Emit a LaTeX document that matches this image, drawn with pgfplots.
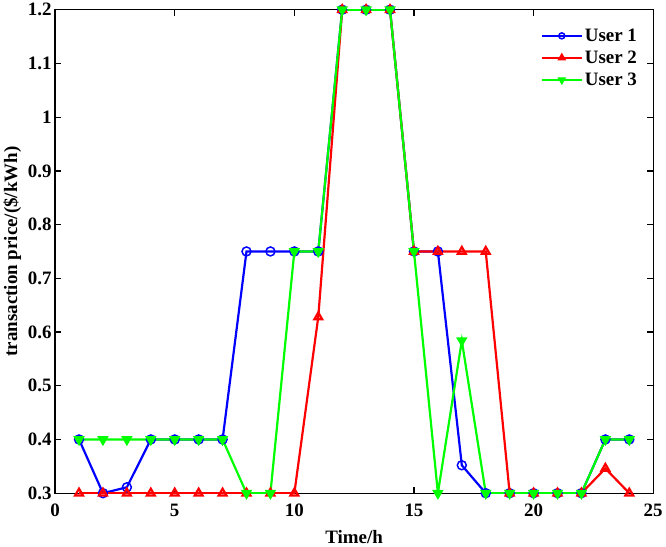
\documentclass[border=0pt]{standalone}
\usepackage{fontspec}
\setmainfont{Liberation Serif}
\usepackage{pgfplots}
\pgfplotsset{compat=1.18}
\begin{document}
\begin{tikzpicture}
\begin{axis}[
  scale only axis,
  width=600pt, height=485pt,
  xmin=0, xmax=25, ymin=0.3, ymax=1.2,
  xtick={0,5,10,15,20,25},
  ytick={0.3,0.4,0.5,0.6,0.7,0.8,0.9,1,1.1,1.2},
  tick align=inside,
  major tick length=6pt,
  axis line style={line width=1.3pt},
  every tick/.style={black, line width=1.3pt},
  /pgf/number format/assume math mode=true,
  ticklabel style={font=\fontsize{19}{22}\selectfont\bfseries},
  xticklabel style={yshift=-7pt},
  xlabel={Time/h},
  ylabel={transaction price/(\$/kWh)},
  label style={font=\fontsize{19}{22}\selectfont\bfseries},
  xlabel style={yshift=-7pt},
  ylabel style={yshift=0pt},
  legend style={at={(0.81,1)}, anchor=north west, font=\fontsize{19}{22}\selectfont\bfseries, draw=none, fill=white, inner sep=1pt, row sep=4pt, cells={anchor=west}, nodes={inner xsep=2pt}, yshift=-16pt},
  legend image code/.code={\draw[mark repeat=2,mark phase=2, mark size=3pt] plot coordinates {(0pt,0pt)(20pt,0pt)(40pt,0pt)};},
  every axis plot/.append style={line width=2.2pt, mark size=4.5pt, mark options={solid, line width=1.5pt}},
]
\addplot[blue, mark=o] coordinates {
(1,0.4)(2,0.3)(3,0.311)(4,0.4)(5,0.4)(6,0.4)(7,0.4)(8,0.75)(9,0.75)(10,0.75)(11,0.75)(12,1.2)(13,1.2)(14,1.2)(15,0.75)(16,0.75)(17,0.352)(18,0.3)(19,0.3)(20,0.3)(21,0.3)(22,0.3)(23,0.4)(24,0.4)};
\addlegendentry{User 1}
\addplot[red, mark=triangle, mark options={fill=white}] coordinates {
(1,0.3)(2,0.3)(3,0.3)(4,0.3)(5,0.3)(6,0.3)(7,0.3)(8,0.3)(9,0.3)(10,0.3)(11,0.628)(12,1.2)(13,1.2)(14,1.2)(15,0.75)(16,0.75)(17,0.75)(18,0.75)(19,0.3)(20,0.3)(21,0.3)(22,0.3)(23,0.346)(24,0.3)};
\addlegendentry{User 2}
\addplot[green, mark=triangle*, mark options={fill=green, rotate=180}] coordinates {
(1,0.4)(2,0.4)(3,0.4)(4,0.4)(5,0.4)(6,0.4)(7,0.4)(8,0.3)(9,0.3)(10,0.75)(11,0.75)(12,1.2)(13,1.2)(14,1.2)(15,0.75)(16,0.3)(17,0.584)(18,0.3)(19,0.3)(20,0.3)(21,0.3)(22,0.3)(23,0.4)(24,0.4)};
\addlegendentry{User 3}
\end{axis}
\end{tikzpicture}
\end{document}
